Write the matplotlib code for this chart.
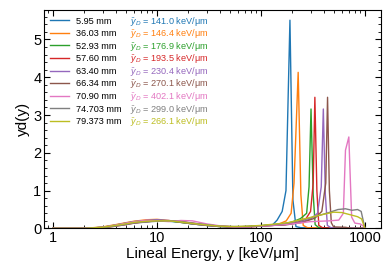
import matplotlib
matplotlib.use("Agg")
import matplotlib.pyplot as plt

plt.rcParams['font.family'] = ['Liberation Sans', 'DejaVu Sans']
plt.rcParams['mathtext.fontset'] = 'custom'
plt.rcParams['mathtext.rm'] = 'Liberation Sans'
plt.rcParams['mathtext.it'] = 'Liberation Sans:italic'

labels = ["5.95 mm", "36.03 mm", "52.93 mm", "57.60 mm", "63.40 mm",
          "66.34 mm", "70.90 mm", "74.703 mm", "79.373 mm"]
yd_values = ["141.0", "146.4", "176.9", "193.5", "230.4",
             "270.1", "402.1", "299.0", "266.1"]
colors = ["#1f77b4", "#ff7f0e", "#2ca02c", "#d62728", "#9467bd",
          "#8c564b", "#e377c2", "#7f7f7f", "#bcbd22"]

x_low = [1, 2, 3, 4, 5, 6, 8, 10, 13, 17, 22, 30, 40, 55, 75, 100, 130]

low_blue = [0, 0, 0.03, 0.08, 0.12, 0.15, 0.18, 0.2, 0.19, 0.16, 0.12, 0.08, 0.05, 0.04, 0.05, 0.07, 0.1]
low_orange = [0, 0, 0.04, 0.1, 0.15, 0.19, 0.23, 0.24, 0.21, 0.16, 0.12, 0.08, 0.05, 0.04, 0.05, 0.07, 0.09]
low_green = [0, 0, 0.03, 0.09, 0.14, 0.18, 0.21, 0.22, 0.2, 0.16, 0.12, 0.08, 0.05, 0.04, 0.05, 0.07, 0.09]
low_red = [0, 0, 0.02, 0.06, 0.1, 0.14, 0.18, 0.2, 0.2, 0.18, 0.14, 0.09, 0.06, 0.04, 0.04, 0.06, 0.08]
low_purple = [0, 0, 0.03, 0.08, 0.13, 0.17, 0.21, 0.23, 0.21, 0.17, 0.12, 0.08, 0.05, 0.04, 0.05, 0.06, 0.08]
low_brown = [0, 0, 0.02, 0.07, 0.11, 0.15, 0.18, 0.2, 0.2, 0.18, 0.13, 0.09, 0.06, 0.04, 0.04, 0.06, 0.08]
low_pink = [0, 0, 0.03, 0.09, 0.14, 0.18, 0.22, 0.2, 0.18, 0.21, 0.2, 0.12, 0.07, 0.04, 0.04, 0.06, 0.08]
low_gray = [0, 0, 0.02, 0.06, 0.1, 0.14, 0.17, 0.19, 0.2, 0.18, 0.14, 0.1, 0.06, 0.05, 0.05, 0.07, 0.1]
low_olive = [0, 0, 0.03, 0.08, 0.12, 0.16, 0.19, 0.2, 0.2, 0.17, 0.13, 0.09, 0.06, 0.05, 0.06, 0.08, 0.11]

hx_blue = [143, 160, 174, 190, 203, 217, 240, 300, 600, 1000]
hy_blue = [0.22, 0.45, 1.0, 5.51, 0.75, 0.05, 0.02, 0.01, 0.0, 0.0]
hx_orange = [150, 175, 195, 208, 228, 242, 255, 280, 600, 1000]
hy_orange = [0.12, 0.2, 0.4, 1.2, 4.13, 0.9, 0.08, 0.02, 0.0, 0.0]
hx_green = [160, 200, 240, 275, 290, 303, 318, 332, 360, 600, 1000]
hy_green = [0.11, 0.17, 0.26, 0.4, 1.1, 3.16, 0.9, 0.1, 0.02, 0.0, 0.0]
hx_red = [170, 220, 270, 300, 318, 330, 345, 360, 390, 600, 1000]
hy_red = [0.1, 0.15, 0.25, 0.45, 1.2, 3.47, 1.0, 0.08, 0.02, 0.0, 0.0]
hx_purple = [170, 230, 300, 350, 380, 398, 416, 435, 470, 700, 1000]
hy_purple = [0.1, 0.15, 0.25, 0.4, 1.1, 3.16, 0.9, 0.08, 0.02, 0.01, 0.0]
hx_brown = [180, 250, 330, 385, 420, 437, 455, 475, 500, 650, 750, 1000]
hy_brown = [0.1, 0.16, 0.27, 0.45, 1.2, 3.47, 1.0, 0.15, 0.04, 0.03, 0.0, 0.0]
hx_pink = [200, 300, 450, 560, 620, 650, 700, 745, 800, 900, 980, 1000]
hy_pink = [0.12, 0.18, 0.2, 0.22, 0.4, 2.07, 2.42, 0.3, 0.14, 0.12, 0.05, 0.0]
hx_gray = [180, 250, 350, 450, 550, 650, 750, 850, 920, 1000]
hy_gray = [0.14, 0.22, 0.33, 0.42, 0.5, 0.52, 0.48, 0.5, 0.45, 0.0]
hx_olive = [180, 250, 380, 500, 600, 750, 850, 930, 1000]
hy_olive = [0.15, 0.24, 0.36, 0.43, 0.42, 0.35, 0.31, 0.25, 0.0]

lows = [low_blue, low_orange, low_green, low_red, low_purple,
        low_brown, low_pink, low_gray, low_olive]
hxs = [hx_blue, hx_orange, hx_green, hx_red, hx_purple,
       hx_brown, hx_pink, hx_gray, hx_olive]
hys = [hy_blue, hy_orange, hy_green, hy_red, hy_purple,
       hy_brown, hy_pink, hy_gray, hy_olive]

W, H = 383, 270
fig = plt.figure(figsize=(W / 100, H / 100), dpi=100)
ax = fig.add_axes([0.115, 0.154, 0.88, 0.809])

for lab, c, lo, hx, hy in zip(labels, colors, lows, hxs, hys):
    ax.plot(x_low + hx, lo + hy, color=c, lw=1.0, label=lab)

ax.set_xscale('log')
ax.set_xlim(0.82, 1430)
ax.set_ylim(0, 5.78)
ax.set_yticks([0, 1, 2, 3, 4, 5])
ax.yaxis.set_minor_locator(matplotlib.ticker.MultipleLocator(0.2))
ax.xaxis.set_major_formatter(matplotlib.ticker.FuncFormatter(lambda v, p: f"{v:g}"))
ax.tick_params(which='both', direction='in', top=True, right=True, labelsize=10.5, pad=2)
ax.tick_params(which='major', length=4, width=0.8)
ax.tick_params(which='minor', length=2, width=0.6)
ax.set_xlabel("Lineal Energy, y [keV/μm]", fontsize=11, labelpad=1)
ax.set_ylabel("yd(y)", fontsize=11, labelpad=2)

fs = 6.6
target_step = 12.6       # px between legend rows
target_first = H - 21.0  # px (from bottom) of first row centre
ls = 0.26
anchor_y = 1.0
px_per_fs = fs * 100 / 72.0
for _ in range(4):
    leg = ax.legend(loc='upper left', fontsize=fs, frameon=False, handlelength=2.07,
                    handletextpad=0.76, labelspacing=ls, borderaxespad=0.3,
                    bbox_to_anchor=(0.0, anchor_y))
    fig.canvas.draw()
    ys = [(t.get_window_extent().y0 + t.get_window_extent().y1) / 2 for t in leg.get_texts()]
    step = (ys[0] - ys[-1]) / (len(ys) - 1)
    ls += (target_step - step) / px_per_fs
    ax_h = ax.get_window_extent().height
    anchor_y += (target_first - ys[0]) / ax_h

leg = ax.legend(loc='upper left', fontsize=fs, frameon=False, handlelength=2.07,
                handletextpad=0.76, labelspacing=ls, borderaxespad=0.3,
                bbox_to_anchor=(0.0, anchor_y))
fig.canvas.draw()
inv = ax.transAxes.inverted()
x_text = inv.transform((130, 0))[0]
for t, c, v in zip(leg.get_texts(), colors, yd_values):
    bb = t.get_window_extent()
    _, yc = inv.transform(((bb.x0 + bb.x1) / 2, (bb.y0 + bb.y1) / 2))
    ax.text(x_text, yc, r"$\bar{y}_D$ = " + v + " keV/μm", color=c, fontsize=fs,
            transform=ax.transAxes, va='center', ha='left')

fig.savefig("out.png", dpi=100)
